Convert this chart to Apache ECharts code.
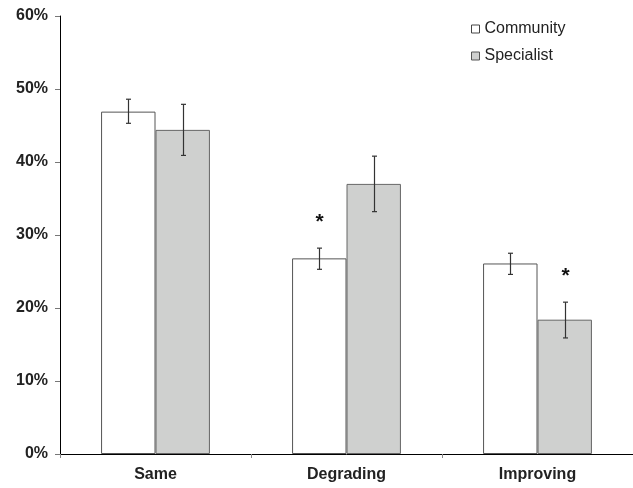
<!DOCTYPE html>
<html>
<head>
<meta charset="utf-8">
<script src="https://cdn.jsdelivr.net/npm/echarts@6/dist/echarts.min.js"></script>
<style>
  html, body { margin: 0; padding: 0; background: #fff; }
  #chart { width: 633px; height: 488px; }
</style>
</head>
<body>
<div id="chart"></div>
<script>
// data (percent)
var categories = ['Same', 'Degrading', 'Improving'];
var community = [46.9, 26.8, 26.1];
var communityLow = [45.3, 25.3, 24.6];
var communityHigh = [48.6, 28.2, 27.5];
var specialist = [44.4, 37.0, 18.4];
var specialistLow = [40.9, 33.2, 15.9];
var specialistHigh = [47.9, 40.8, 20.8];
// significance stars: 1 = marked
var communityStar = [0, 1, 0];
var specialistStar = [0, 0, 1];

var font = '"Liberation Sans", Arial, sans-serif';

// error bar data: [category, low, high, side(-1 community / +1 specialist), star]
var errData = [];
categories.forEach(function (c, i) {
  errData.push([i, communityLow[i], communityHigh[i], -1, communityStar[i]]);
  errData.push([i, specialistLow[i], specialistHigh[i], 1, specialistStar[i]]);
});

var chart = echarts.init(document.getElementById('chart'));

function renderErr(params, api) {
  var i = api.value(0);
  var side = api.value(3);
  var band = api.size([1, 0])[0];
  var dx = side * band * 0.57 / 4;
  var lo = api.coord([i, api.value(1)]);
  var hi = api.coord([i, api.value(2)]);
  var x = Math.round(lo[0] + dx) + 0.5;
  var cap = 2.5;
  var style = { stroke: '#333', lineWidth: 1.2 };
  var children = [
    { type: 'line', shape: { x1: x, y1: hi[1], x2: x, y2: lo[1] }, style: style },
    { type: 'line', shape: { x1: x - cap, y1: hi[1], x2: x + cap, y2: hi[1] }, style: style },
    { type: 'line', shape: { x1: x - cap, y1: lo[1], x2: x + cap, y2: lo[1] }, style: style }
  ];
  if (api.value(4)) {
    children.push({
      type: 'text',
      style: {
        text: '*', x: x, y: hi[1] - 26,
        align: 'center', verticalAlign: 'middle',
        font: 'bold 21px ' + font, fill: '#111'
      }
    });
  }
  return { type: 'group', children: children };
}

chart.setOption({
  backgroundColor: '#fff',
  animation: false,
  textStyle: { fontFamily: font },
  grid: { left: 60, top: 16, width: 575, height: 438 },
  legend: {
    orient: 'vertical',
    left: 466,
    top: 16,
    itemWidth: 8,
    itemHeight: 8,
    itemGap: 11,
    icon: 'rect',
    textStyle: { fontSize: 16, color: '#222', fontFamily: font },
    data: [
      { name: 'Community', itemStyle: { color: '#fff', borderColor: '#444', borderWidth: 1 } },
      { name: 'Specialist', itemStyle: { color: '#cfd0cf', borderColor: '#555', borderWidth: 1 } }
    ]
  },
  xAxis: {
    type: 'category',
    data: categories,
    axisLine: { lineStyle: { color: '#000', width: 1 } },
    axisTick: { show: true, length: 4, lineStyle: { color: '#888' } },
    axisLabel: { fontSize: 16, fontWeight: 'bold', color: '#222', margin: 13 }
  },
  yAxis: {
    type: 'value',
    min: 0,
    max: 60,
    interval: 10,
    splitLine: { show: false },
    axisLine: { show: true, lineStyle: { color: '#000', width: 1 } },
    axisTick: { show: true, length: 5, lineStyle: { color: '#777' } },
    axisLabel: { formatter: '{value}%', fontSize: 16, fontWeight: 'bold', color: '#222', margin: 12 }
  },
  series: [
    {
      name: 'Community',
      type: 'bar',
      data: community,
      barGap: '0%',
      barCategoryGap: '43%',
      itemStyle: { color: '#ffffff', borderColor: '#555', borderWidth: 1 }
    },
    {
      name: 'Specialist',
      type: 'bar',
      data: specialist,
      barGap: '0%',
      barCategoryGap: '43%',
      itemStyle: { color: '#cfd0cf', borderColor: '#666', borderWidth: 1 }
    },
    {
      type: 'custom',
      renderItem: renderErr,
      data: errData,
      encode: { x: 0, y: [1, 2] },
      z: 10,
      silent: true
    }
  ]
});
</script>
</body>
</html>
